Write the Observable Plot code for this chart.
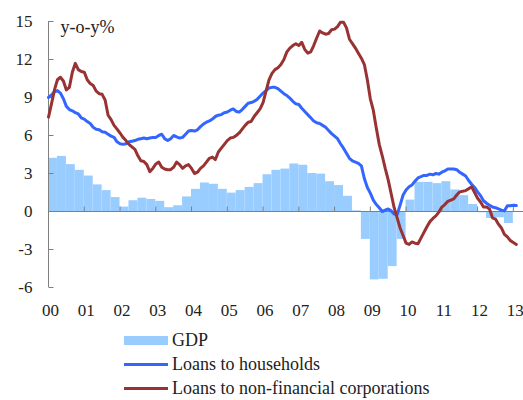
<!DOCTYPE html>
<html>
<head>
<meta charset="utf-8">
<script src="https://cdn.jsdelivr.net/npm/d3@7"></script>
<script src="https://cdn.jsdelivr.net/npm/@observablehq/plot@0.6"></script>
<style>
  body { margin: 0; background: #fff; }
  #wrap { width: 523px; font-family: "Liberation Serif", "Times New Roman", serif; color: #222; }
  .legend { padding-top: 3px; padding-left: 124px; }
  .row { display: flex; align-items: center; height: 24px; font-size: 18px; line-height: 20px; }
  .sw { width: 44px; margin-right: 4px; }
</style>
</head>
<body>
<div id="wrap"></div>
<script>
// ---- data ----
const yearLabels = ["00","01","02","03","04","05","06","07","08","09","10","11","12","13"];
const yTicks = [-6, -3, 0, 3, 6, 9, 12, 15];
const xDomain = [2000, 2013.2];
const unitLabel = "y-o-y%";
const seriesNames = ["GDP", "Loans to households", "Loans to non-financial corporations"];
const seriesColors = ["#99CCFF", "#3366FF", "#993333"];

// GDP, quarterly, 2000Q1 .. 2012Q4
const gdp = [
  4.2, 4.35, 3.7, 3.25,
  2.8, 2.1, 1.65, 1.1,
  0.35, 0.85, 1.05, 0.95,
  0.8, 0.3, 0.45, 1.15,
  1.75, 2.25, 2.15, 1.75,
  1.45, 1.65, 1.9, 2.2,
  2.9, 3.25, 3.35, 3.75,
  3.65, 3.0, 2.95, 2.35,
  2.05, 1.2, 0.05, -2.2,
  -5.4, -5.35, -4.35, -2.2,
  0.9, 2.3, 2.3, 2.2,
  2.35, 1.7, 1.25, 0.55,
  -0.1, -0.55, -0.5, -0.95
];

// Loans to households, monthly, Jan 2000 .. Feb 2013
const households = [
  9.0, 9.2, 9.45, 9.55, 9.35, 8.9, 8.3, 8.05, 7.95, 7.8, 7.7, 7.4,
  7.3, 7.1, 6.95, 6.65, 6.5, 6.45, 6.3, 6.25, 6.1, 5.95, 5.85, 5.5,
  5.35, 5.3, 5.35, 5.5, 5.55, 5.6, 5.7, 5.75, 5.8, 5.75, 5.8, 5.85,
  5.85, 6.0, 6.1, 5.75, 5.6, 5.75, 6.0, 5.9, 5.8, 5.85, 6.1, 6.35,
  6.4, 6.35, 6.45, 6.7, 6.9, 7.05, 7.15, 7.3, 7.5, 7.6, 7.65, 7.8,
  7.85, 8.0, 8.1, 7.9, 7.85, 8.05, 8.3, 8.55, 8.6, 8.7, 8.85, 9.1,
  9.35, 9.55, 9.75, 9.8, 9.8, 9.7, 9.5, 9.3, 9.15, 8.95, 8.7, 8.5,
  8.45, 8.15, 7.9, 7.65, 7.4, 7.15, 7.0, 6.95, 6.8, 6.65, 6.4, 6.15,
  5.95, 5.75, 5.35, 5.0, 4.6, 4.2, 4.0, 3.9, 3.8, 3.6, 2.6, 1.9,
  1.45, 0.9, 0.55, 0.3, 0.0, 0.1, 0.2, 0.05, -0.2, -0.25, 0.5, 1.3,
  1.7, 1.95, 2.1, 2.4, 2.65, 2.75, 2.85, 2.85, 2.95, 2.9, 3.0, 2.95,
  3.1, 3.2, 3.35, 3.35, 3.35, 3.3, 3.1, 2.95, 2.8, 2.45, 2.15, 1.9,
  1.55, 1.25, 0.85, 0.65, 0.5, 0.35, 0.3, 0.2, 0.1, 0.05, 0.45, 0.45,
  0.5, 0.47
];

// Loans to non-financial corporations, monthly, Jan 2000 .. Feb 2013
const corporations = [
  7.45, 8.5, 9.6, 10.4, 10.6, 10.3, 9.6, 9.8, 11.0, 11.7, 11.2, 11.05,
  11.0, 10.4, 10.1, 9.95, 9.5, 9.3, 9.25, 8.8, 7.6, 7.25, 6.8, 6.5,
  6.2, 5.85, 5.6, 5.3, 5.1, 4.9, 4.4, 4.0, 3.95, 3.7, 3.15, 3.4,
  3.75, 3.9, 3.5, 3.35, 3.3, 3.3, 3.5, 3.9, 3.7, 3.4, 3.6, 3.7,
  3.4, 3.0, 3.1, 3.4, 3.6, 3.9, 4.2, 4.3, 4.1, 4.7, 5.0, 5.3,
  5.6, 5.8, 5.85, 6.0, 6.2, 6.5, 6.8, 7.05, 7.1, 7.5, 7.8, 8.1,
  8.6, 9.5, 10.4, 10.9, 11.2, 11.35, 11.6, 12.0, 12.6, 12.9, 13.1, 13.25,
  13.1, 13.35, 12.8, 12.5, 12.6, 13.1, 13.7, 14.25, 14.1, 14.0, 14.05, 14.35,
  14.4, 14.6, 14.95, 14.95, 14.5, 13.6, 13.25, 12.9, 12.5, 12.1, 11.6, 10.4,
  8.9, 8.0, 6.6, 5.3, 4.4, 3.4, 2.5, 1.4, 0.3, -0.5, -1.3, -1.9,
  -2.5, -2.6, -2.4, -2.5, -2.55, -2.1, -1.65, -1.2, -0.8, -0.55, -0.35, -0.05,
  0.35, 0.55, 0.8, 0.9, 1.0, 1.3, 1.55, 1.6, 1.65, 1.8, 1.95, 1.5,
  1.05, 0.75, 0.35, 0.35, 0.2, -0.5, -0.6, -1.0, -1.3, -1.8, -2.0, -2.3,
  -2.45, -2.6
];

// ---- derived tables ----
const startYear = 2000;
const gdpData = gdp.map((v, i) => ({start: startYear + i / 4, end: startYear + (i + 1) / 4, value: v}));
const hhData = households.map((v, i) => ({t: startYear + i / 12, v}));
const corpData = corporations.map((v, i) => ({t: startYear + i / 12, v}));
const xTickValues = yearLabels.map((_, i) => startYear + i);

const tickUp = {draw(ctx) { ctx.moveTo(0, 0); ctx.lineTo(0, -5); }};
const tickRight = {draw(ctx) { ctx.moveTo(0, 0); ctx.lineTo(5, 0); }};
const axisColor = "#808080";

const chart = Plot.plot({
  width: 523,
  height: 325,
  marginLeft: 48,
  marginRight: 3,
  marginTop: 21,
  marginBottom: 38,
  style: {fontFamily: "'Liberation Serif', 'Times New Roman', serif", fontSize: "17px", color: "#222", background: "#fff"},
  x: {domain: xDomain, label: null},
  y: {domain: [yTicks[0], yTicks[yTicks.length - 1]], label: null},
  marks: [
    Plot.rectY(gdpData, {x1: "start", x2: "end", y: "value", fill: seriesColors[0], insetLeft: 0, insetRight: 0}),
    Plot.ruleY([0], {stroke: axisColor, insetRight: -3}),
    Plot.ruleX([xDomain[0]], {y1: yTicks[0], y2: yTicks[yTicks.length - 1], stroke: axisColor}),
    Plot.dot(xTickValues, {x: d => d, y: 0, symbol: tickUp, stroke: axisColor, fill: "none", strokeWidth: 1}),
    Plot.dot(yTicks, {x: () => xDomain[0], y: d => d, symbol: tickRight, stroke: axisColor, fill: "none", strokeWidth: 1}),
    Plot.axisY(yTicks, {tickSize: 0, tickPadding: 16, tickFormat: d => String(d), label: null, fill: "#222"}),
    Plot.axisX(xTickValues, {tickSize: 0, tickPadding: 16, dx: 2, tickFormat: d => yearLabels[Math.round(d) - startYear], label: null, fill: "#222"}),
    Plot.line(hhData, {x: "t", y: "v", stroke: seriesColors[1], strokeWidth: 3, strokeLinejoin: "round"}),
    Plot.line(corpData, {x: "t", y: "v", stroke: seriesColors[2], strokeWidth: 3, strokeLinejoin: "round"}),
    Plot.text([unitLabel], {frameAnchor: "top-left", dx: 12, dy: -1, textAnchor: "start", fontSize: 18, fill: "#222"})
  ]
});

const wrap = document.getElementById("wrap");
wrap.appendChild(chart);

const legend = document.createElement("div");
legend.className = "legend";
seriesNames.forEach((name, i) => {
  const row = document.createElement("div");
  row.className = "row";
  const sw = document.createElement("span");
  sw.className = "sw";
  sw.style.background = seriesColors[i];
  sw.style.height = i === 0 ? "9px" : "3px";
  const label = document.createElement("span");
  label.textContent = name;
  row.appendChild(sw);
  row.appendChild(label);
  legend.appendChild(row);
});
wrap.appendChild(legend);
</script>
</body>
</html>
